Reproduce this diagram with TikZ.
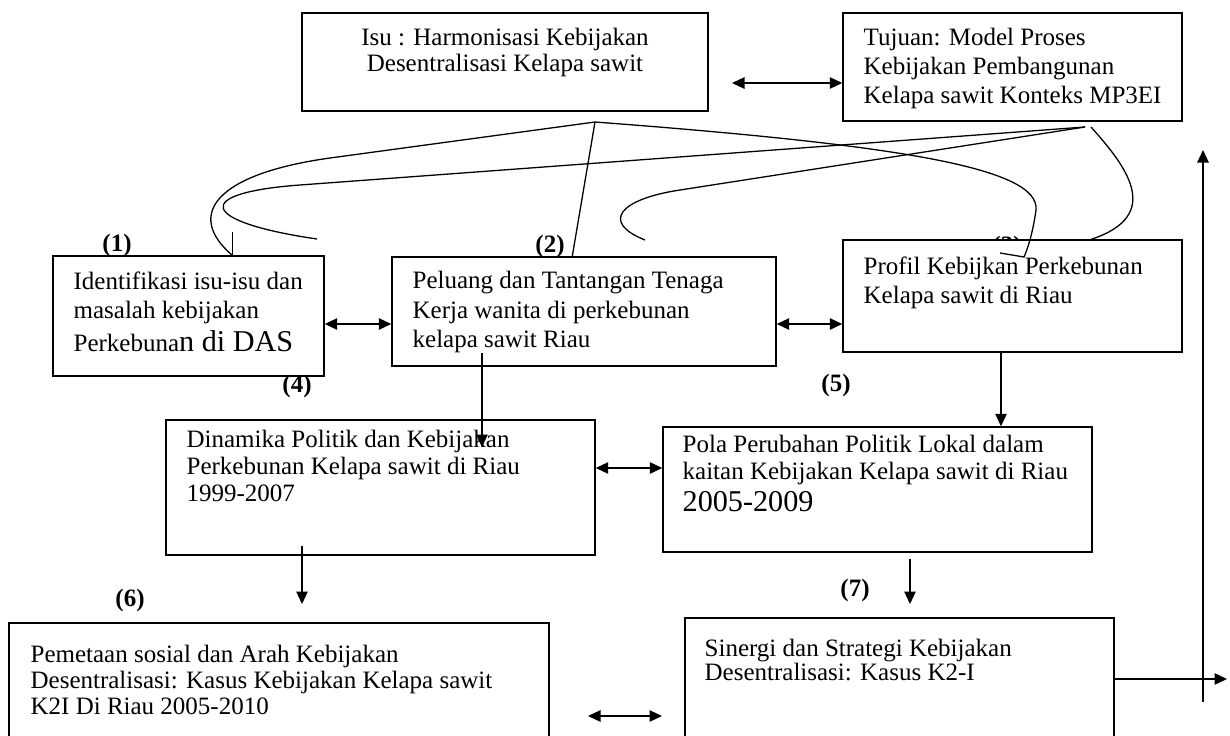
\documentclass[tikz,border=0pt]{standalone}
\usepackage{fontspec}
\setmainfont{Liberation Serif}
\usetikzlibrary{arrows.meta,fit,calc}
\newcommand\fsz[2]{\fontsize{#1}{#2}\selectfont}
\begin{document}
\begin{tikzpicture}[x=0.48pt,y=-0.48pt,line width=0.62pt,
  >={Triangle[length=6pt,width=5.5pt]},
  box/.style={draw,line width=0.7pt,fill=white,inner sep=0pt},
  txt/.style={inner sep=0pt,align=left,anchor=north west},
  lab/.style={inner sep=0pt,font=\fsz{12}{14}\bfseries},
  link/.style={line width=0.62pt}]
\useasboundingbox (0,0) rectangle (1230,735);
\clip (0,0) rectangle (1230,735);

% label partly hidden behind box
\node[lab] (l3) at (1007,247) {(3)};

% boxes
\node[box,fit={(302,13) (708,111)}] (isu) {};
\node[box,fit={(843,13) (1182,121)}] (tuj) {};
\node[box,fit={(53,256) (324,376)}] (ide) {};
\node[box,fit={(392,257) (776,366)}] (pel) {};
\node[box,fit={(843,240) (1182,352)}] (pro) {};
\node[box,fit={(166,420) (595,555)}] (din) {};
\node[box,fit={(663,427) (1092,552)}] (pol) {};
\node[box,fit={(9,623) (549,770)}] (pem) {};
\node[box,fit={(685,618) (1114,770)}] (sin) {};

% texts
\node[txt,anchor=north,align=center,font=\fsz{12}{12.2}] (isuT) at (505,28)
  {Isu : Harmonisasi Kebijakan\\Desentralisasi Kelapa sawit};
\node[txt,font=\fsz{12}{13.7}] (tujT) at (863,28)
  {Tujuan: Model Proses\\Kebijakan Pembangunan\\Kelapa sawit Konteks MP3EI};
\node[txt,font=\fsz{12}{13.9}] (ideT) at (73,271)
  {Identifikasi isu-isu dan\\masalah kebijakan\\[1.9pt]Perkebuna{\fsz{14.5}{16}n di DAS}};
\node[txt,font=\fsz{12}{14.1}] (pelT) at (412,271)
  {Peluang dan Tantangan Tenaga\\Kerja wanita di perkebunan\\kelapa sawit Riau};
\node[txt,font=\fsz{12}{13.9}] (proT) at (863,256)
  {Profil Kebijkan Perkebunan\\Kelapa sawit di Riau};
\node[txt,font=\fsz{12}{12.8}] (dinT) at (186,430)
  {Dinamika Politik dan Kebijakan\\Perkebunan Kelapa sawit di Riau\\1999-2007};
\node[txt,font=\fsz{12}{12.8}] (polT) at (682,435)
  {Pola Perubahan Politik Lokal dalam\\kaitan Kebijakan Kelapa sawit di Riau\\[2.6pt]{\fsz{14.5}{16}2005-2009}};
\node[txt,font=\fsz{12}{12.5}] (pemT) at (30,644)
  {Pemetaan sosial dan Arah Kebijakan\\Desentralisasi: Kasus Kebijakan Kelapa sawit\\K2I Di Riau 2005-2010};
\node[txt,font=\fsz{12}{11.6}] (sinT) at (704,638)
  {Sinergi dan Strategi Kebijakan\\Desentralisasi: Kasus K2-I};

% labels
\node[lab] (l1) at (117,245) {(1)};
\node[lab] (l2) at (550,246) {(2)};
\node[lab] (l4) at (297,386) {(4)};
\node[lab] (l5) at (836,385) {(5)};
\node[lab] (l6) at (130,600) {(6)};
\node[lab] (l7) at (855,590) {(7)};

% junction points
\coordinate (apex) at (595,122);
\coordinate (tp) at (1085,127);
\coordinate (tp2) at (1091,127);
\coordinate (c3end) at (1000,253);
\coordinate (caend) at (317,239);
\coordinate (cbend) at (645,240);

% curves from Isu
\draw[link] (apex) -- (330,158) .. controls (215,174) and (185,215) .. ($(ide.north west)+(180,0)$);
\draw[link] ($(ide.north west)+(180,0)$) -- ++(0,-23);
\draw[link] (apex) -- ($(pel.north west)+(181,0)$);
\draw[link] (apex) .. controls (900,145) and (1040,168) .. (1036,210)
  .. controls (1033,232) and (1028,248) .. (1024,257) -- (c3end);
% curves from Tujuan
\draw[link] (tp2) .. controls (1125,165) and (1165,215) .. ($(pro.north west)+(249,0)$);
\draw[link] (tp) -- (300,185) .. controls (190,193) and (200,222) .. (caend);
\draw[link] (tp) -- (680,190) .. controls (620,199) and (600,222) .. (cbend);

% arrows
\coordinate (a1s) at (732,83);
\draw[<->] (a1s) -- (tuj.west |- a1s);
\coordinate (y2) at (0,324);
\draw[<->] (ide.east |- y2) -- (pel.west |- y2);
\draw[<->] (pel.east |- y2) -- (pro.west |- y2);
\coordinate (p1) at (482,353);
\coordinate (p2) at (482,447);
\draw[->] (p1) -- (p2);
\coordinate (xp) at (1001,0);
\draw[->] (pro.south -| xp) -- (pol.north -| xp);
\coordinate (y5) at (0,468);
\draw[<->] (din.east |- y5) -- (pol.west |- y5);
\coordinate (d1) at (302,546);
\coordinate (d2) at (302,604);
\draw[->] (d1) -- (d2);
\coordinate (q1) at (910,559);
\coordinate (q2) at (910,604);
\draw[->] (q1) -- (q2);
\coordinate (e1) at (588,716);
\coordinate (e2) at (662,716);
\draw[<->] (e1) -- (e2);
\coordinate (y7) at (0,679);
\coordinate (r1) at (1227,679);
\draw[->] (sin.east |- y7) -- (r1);
\coordinate (v1) at (1203,702);
\coordinate (v2) at (1203,150);
\draw[->] (v1) -- (v2);
\end{tikzpicture}
\end{document}
